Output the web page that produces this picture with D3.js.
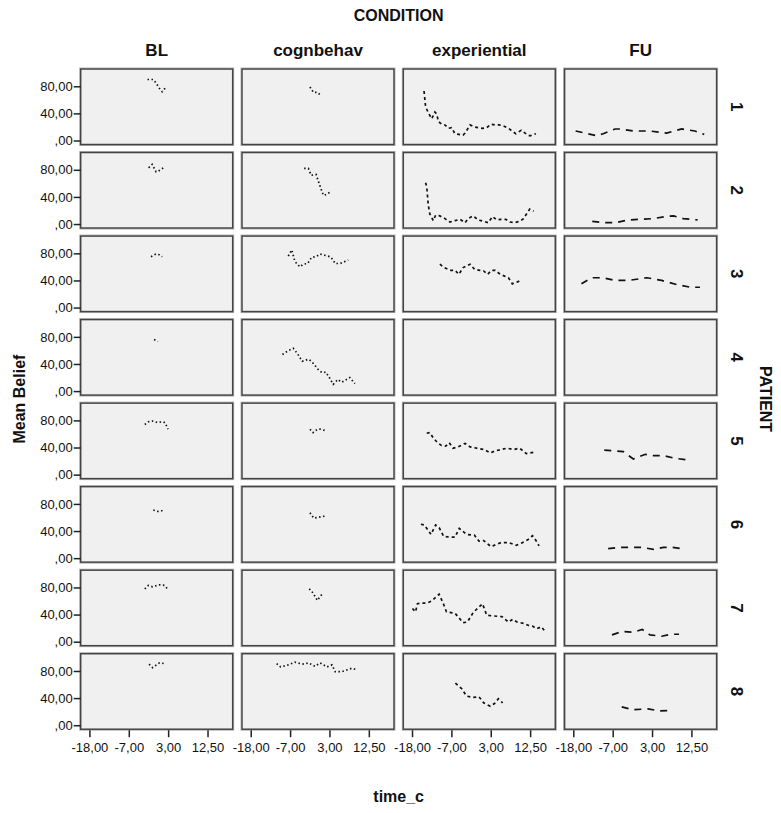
<!DOCTYPE html>
<html>
<head>
<meta charset="utf-8">
<script src="https://cdn.jsdelivr.net/npm/d3@7"></script>
<style>
  body { margin: 0; background: #fff; }
  svg text { font-family: "Liberation Sans", Arial, sans-serif; fill: #111; }
</style>
</head>
<body>
<svg id="chart" width="781" height="813"></svg>
<script>
// ---- categories and axis labels ----
const conditions = ["BL", "cognbehav", "experiential", "FU"];
const patients = ["1", "2", "3", "4", "5", "6", "7", "8"];
const beliefTicks = [0, 40, 80];
const beliefTickLabels = [",00", "40,00", "80,00"];
const timeTicks = [-18, -7.83, 2.33, 12.5];
const timeTickLabels = ["-18,00", "-7,00", "3,00", "12,50"];

// ---- mean belief over centred time: [time_c, mean belief] per patient and condition ----
const patient1 = {
  BL: [[-3.0,90],[-1.5,90],[-0.8,85],[0.4,74],[0.8,72],[1.8,79]],
  cognbehav: [[-2.7,79],[-1.8,71],[-0.8,71],[0.2,66]],
  experiential: [[-14.9,73],[-14.5,50],[-13.8,41],[-12.9,32],[-12.1,42],[-11.6,39],[-11.2,28],[-10.3,24],[-9.5,23],[-8.6,18],[-7.8,19],[-6.9,10],[-5.9,9],[-4.8,8],[-4.3,11],[-3.0,23],[-1.9,20],[-0.9,19],[0.2,18],[1.3,19],[2.4,24],[3.4,23],[4.5,23],[5.4,22],[6.9,18],[8.8,10],[10.2,15],[11.9,8],[12.5,7],[14.0,10]],
  FU: [[-17.4,14],[-15.0,11],[-12.0,7],[-10.3,10],[-7.2,17],[-5.9,17],[-2.5,14],[1.8,14],[6.1,11],[10.0,17],[13.4,14],[15.8,9]]
};
const patient2 = {
  BL: [[-2.7,83],[-1.8,88],[-0.8,77],[-0.2,78],[1.1,83]],
  cognbehav: [[-4.2,82],[-3.1,82],[-2.4,72],[-1.1,73],[-0.7,66],[0.5,46],[0.9,42],[2.5,47]],
  experiential: [[-14.5,61],[-14.2,55],[-13.8,28],[-13.4,15],[-12.5,5],[-11.9,13],[-10.8,12],[-9.5,8],[-8.2,3],[-6.9,5],[-5.6,7],[-4.3,2],[-3.5,8],[-2.2,12],[-0.9,6],[0.5,4],[1.7,2],[2.8,11],[3.9,6],[5.0,7],[6.2,7],[7.3,3],[8.4,2],[9.9,4],[10.8,8],[12.4,22],[13.4,19]],
  FU: [[-13.1,4],[-10.3,2],[-7.2,2],[-3.8,6],[-0.4,7],[2.7,8],[5.7,11],[7.9,12],[10.4,8],[14.1,6]]
};
const patient3 = {
  BL: [[-2.1,75],[-0.8,79],[0.0,78],[0.8,75]],
  cognbehav: [[-8.3,76],[-7.4,85],[-7.2,81],[-6.6,68],[-6.1,65],[-5.3,60],[-4.4,64],[-3.3,65],[-2.3,74],[-1.1,75],[-0.1,79],[0.5,78],[2.5,75],[3.2,71],[3.8,65],[5.1,65],[7.2,70]],
  experiential: [[-10.8,64],[-9.7,59],[-8.2,55],[-6.9,55],[-5.9,49],[-4.8,59],[-3.0,64],[-1.8,56],[-0.5,55],[0.5,54],[1.5,49],[2.6,55],[3.5,55],[4.8,49],[6.9,44],[7.9,35],[9.7,39]],
  FU: [[-15.9,35],[-13.3,44],[-10.3,44],[-7.2,40],[-3.8,40],[1.0,44],[4.8,40],[8.7,34],[12.2,30],[14.7,30]]
};
const patient4 = {
  BL: [[-1.3,76],[-0.3,73]],
  cognbehav: [[-9.8,54],[-8.2,60],[-7.0,63],[-5.9,55],[-4.7,44],[-3.1,47],[-2.3,44],[-0.3,30],[0.6,27],[1.4,28],[2.3,20],[3.3,10],[4.5,17],[5.5,13],[7.6,20],[8.9,11]],
  experiential: [],
  FU: []
};
const patient5 = {
  BL: [[-3.7,74],[-2.8,78],[-1.7,79],[-0.5,77],[1.1,78],[1.6,76],[2.3,67]],
  cognbehav: [[-2.7,67],[-1.9,62],[-0.8,67],[0.1,67],[1.2,65]],
  experiential: [[-14.2,61],[-13.4,62],[-12.5,54],[-11.4,47],[-10.4,43],[-9.3,42],[-8.4,47],[-7.4,39],[-6.1,41],[-4.3,46],[-3.0,41],[-1.3,39],[0.7,37],[2.2,32],[3.5,35],[5.0,37],[6.5,39],[8.2,37],[9.8,39],[11.5,31],[13.4,33]],
  FU: [[-10.0,36],[-7.4,35],[-5.1,34],[-2.5,23],[0.6,30],[2.7,28],[5.3,28],[8.3,24],[11.3,22]]
};
const patient6 = {
  BL: [[-1.5,71],[-0.4,69],[0.1,69],[1.3,71]],
  cognbehav: [[-2.7,67],[-1.7,59],[0.1,61],[1.2,62]],
  experiential: [[-15.7,50],[-14.8,49],[-13.1,35],[-11.9,49],[-11.0,45],[-9.8,32],[-8.2,31],[-6.9,31],[-5.8,44],[-3.9,35],[-1.9,34],[-0.7,25],[0.5,26],[2.4,17],[5.0,23],[6.9,23],[8.9,19],[10.2,22],[11.9,27],[13.1,33],[13.6,30],[14.8,18]],
  FU: [[-9.0,14],[-6.2,16],[-3.4,16],[-0.4,16],[2.7,13],[5.3,16],[7.4,16],[10.2,14]]
};
const patient7 = {
  BL: [[-3.7,78],[-2.8,83],[-1.7,81],[0.1,84],[1.4,83],[2.3,77]],
  cognbehav: [[-2.9,78],[-2.3,75],[-1.1,64],[-0.8,61],[0.4,70]],
  experiential: [[-17.9,49],[-17.1,44],[-16.6,56],[-15.7,57],[-14.2,57],[-12.9,60],[-11.0,70],[-9.9,56],[-9.1,44],[-6.9,42],[-4.8,28],[-3.7,29],[-2.2,43],[0.2,56],[1.3,39],[2.9,38],[5.2,37],[6.9,29],[8.0,33],[9.1,29],[10.8,27],[12.1,24],[13.1,23],[14.2,19],[15.4,22],[16.4,15]],
  FU: [[-8.0,10],[-5.4,15],[-2.5,14],[-0.2,18],[1.8,10],[4.8,8],[7.4,11],[9.3,11]]
};
const patient8 = {
  BL: [[-2.6,90],[-1.7,85],[0.1,92],[1.3,91]],
  cognbehav: [[-11.3,91],[-10.3,86],[-8.3,89],[-6.6,93],[-5.3,91],[-4.2,90],[-3.1,92],[-1.4,87],[-0.1,92],[1.7,86],[3.0,89],[3.8,79],[5.5,79],[8.1,84],[9.4,82]],
  experiential: [[-6.8,62],[-5.2,54],[-3.9,43],[-2.2,41],[-0.7,42],[0.5,33],[2.2,28],[3.3,32],[4.3,39],[5.4,33]],
  FU: [[-5.5,27],[-2.8,23],[1.3,24],[4.4,21],[7.4,22]]
};
const patientSeries = [patient1, patient2, patient3, patient4, patient5, patient6, patient7, patient8];

// line dash per condition
const conditionDash = { BL: "1.5,2.5", cognbehav: "1.5,2.5", experiential: "3,3", FU: "7,6" };

// ---- layout ----
const svg = d3.select("#chart");
const gridLeft = 80.7, gridTop = 69;
const panelW = 152, panelH = 75.5;
const stepX = 161.3, stepY = 83.53;
const labelFont = "'Liberation Sans', Arial, sans-serif";

const x = d3.scaleLinear().domain([-20.25, 19.0]).range([0, panelW]);
const y = d3.scaleLinear().domain([-5.9, 105.5]).range([panelH, 0]);

const line = d3.line().x(d => x(d[0])).y(d => y(d[1]));

patients.forEach((p, r) => {
  conditions.forEach((c, ci) => {
    const g = svg.append("g")
      .attr("transform", `translate(${gridLeft + ci * stepX},${gridTop + r * stepY})`);

    // soft outer edge and panel frame
    g.append("rect")
      .attr("x", -1).attr("y", -1)
      .attr("width", panelW + 2).attr("height", panelH + 2)
      .attr("fill", "none").attr("stroke", "#b4b4b4").attr("stroke-width", 1);
    g.append("rect")
      .attr("width", panelW).attr("height", panelH)
      .attr("fill", "#f0f0f0").attr("stroke", "#444").attr("stroke-width", 1.5);

    const data = patientSeries[r][c];
    if (data.length) {
      g.append("path")
        .datum(data)
        .attr("d", line)
        .attr("fill", "none")
        .attr("stroke", "#111")
        .attr("stroke-width", 1.7)
        .attr("stroke-dasharray", conditionDash[c]);
    }

    // y axis on the first column
    if (ci === 0) {
      const ya = g.append("g").call(
        d3.axisLeft(y).tickValues(beliefTicks).tickSize(7).tickPadding(1)
          .tickFormat((d, i) => beliefTickLabels[i]));
      ya.select(".domain").remove();
      ya.selectAll("line").attr("stroke", "#222").attr("stroke-width", 1.5);
      ya.selectAll("text").attr("font-size", 13).attr("fill", "#222")
        .style("font-family", labelFont);
    }
    // x axis on the bottom row
    if (r === patients.length - 1) {
      const xa = g.append("g").attr("transform", `translate(0,${panelH + 1})`).call(
        d3.axisBottom(x).tickValues(timeTicks).tickSize(7).tickPadding(6)
          .tickFormat((d, i) => timeTickLabels[i]));
      xa.select(".domain").remove();
      xa.selectAll("line").attr("stroke", "#222").attr("stroke-width", 1.5);
      xa.selectAll("text").attr("font-size", 13).attr("fill", "#222")
        .style("font-family", labelFont);
    }
  });

  // patient label at the right edge
  const cy = gridTop + r * stepY + panelH / 2;
  svg.append("text")
    .attr("transform", `translate(736,${cy}) rotate(90)`)
    .attr("text-anchor", "middle").attr("dominant-baseline", "central")
    .attr("font-size", 17).attr("font-weight", "bold")
    .text(p);
});

// column headers
const gridCenterX = gridLeft + (3 * stepX + panelW) / 2;
const gridCenterY = gridTop + (7 * stepY + panelH) / 2;
conditions.forEach((c, ci) => {
  svg.append("text")
    .attr("x", gridLeft + ci * stepX + panelW / 2).attr("y", 56)
    .attr("text-anchor", "middle")
    .attr("font-size", 17).attr("font-weight", "bold")
    .text(c);
});

svg.append("text")
  .attr("x", gridCenterX).attr("y", 21)
  .attr("text-anchor", "middle")
  .attr("font-size", 16).attr("font-weight", "bold")
  .text("CONDITION");

svg.append("text")
  .attr("x", gridCenterX).attr("y", 802)
  .attr("text-anchor", "middle")
  .attr("font-size", 16).attr("font-weight", "bold")
  .text("time_c");

svg.append("text")
  .attr("transform", `translate(19,${gridCenterY}) rotate(-90)`)
  .attr("text-anchor", "middle").attr("dominant-baseline", "central")
  .attr("font-size", 16).attr("font-weight", "bold")
  .text("Mean Belief");

svg.append("text")
  .attr("transform", `translate(765,${gridCenterY}) rotate(90)`)
  .attr("text-anchor", "middle").attr("dominant-baseline", "central")
  .attr("font-size", 16).attr("font-weight", "bold")
  .text("PATIENT");
</script>
</body>
</html>
